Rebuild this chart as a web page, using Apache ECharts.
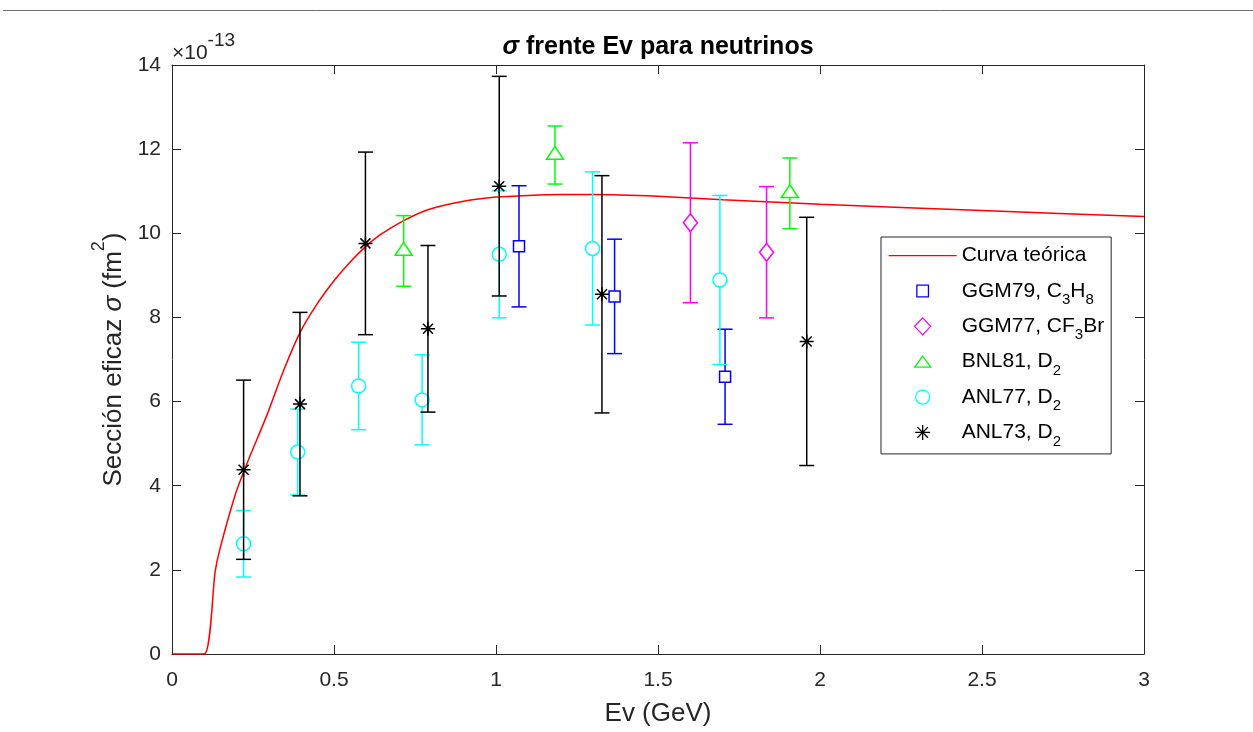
<!DOCTYPE html>
<html><head><meta charset="utf-8">
<script src="https://cdn.jsdelivr.net/npm/echarts@6/dist/echarts.min.js"></script>
<style>html,body{margin:0;padding:0;background:#fff}#c{width:1253px;height:732px}</style>
</head><body><div id="c"></div>
<script>
const FONT = '"Liberation Sans", Arial, Helvetica, sans-serif';

// Theoretical curve (Ev in GeV, sigma in 1e-13 fm^2)
const curveX = [0, 0.1, 0.133, 0.148, 0.198, 0.241, 0.292, 0.345, 0.395, 0.447, 0.503, 0.55, 0.6, 0.642, 0.715, 0.79, 0.9, 1.0, 1.1, 1.2, 1.3, 1.5, 1.7, 2.0, 2.5, 3.0];
const curveY = [0, 0, 1.95, 2.5, 3.85, 4.71, 5.66, 6.75, 7.64, 8.31, 8.9, 9.32, 9.7, 9.96, 10.3, 10.56, 10.76, 10.86, 10.9, 10.92, 10.92, 10.88, 10.8, 10.69, 10.54, 10.4];

// GGM79, C3H8
const ggm79X = [1.071, 1.366, 1.707];
const ggm79Y = [9.69, 8.5, 6.59];
const ggm79Err = [1.44, 1.36, 1.13];
// GGM77, CF3Br
const ggm77X = [1.6, 1.835];
const ggm77Y = [10.25, 9.55];
const ggm77Err = [1.9, 1.56];
// BNL81, D2
const bnl81X = [0.715, 1.182, 1.907];
const bnl81Y = [9.58, 11.86, 10.95];
const bnl81Err = [0.84, 0.69, 0.84];
// ANL77, D2
const anl77X = [0.221, 0.388, 0.576, 0.772, 1.01, 1.298, 1.691];
const anl77Y = [2.62, 4.8, 6.37, 6.04, 9.5, 9.64, 8.89];
const anl77Err = [0.79, 1.02, 1.04, 1.07, 1.51, 1.82, 2.01];
// ANL73, D2
const anl73X = [0.221, 0.395, 0.597, 0.79, 1.01, 1.327, 1.959];
const anl73Y = [4.38, 5.94, 9.76, 7.73, 11.12, 8.55, 7.43];
const anl73Err = [2.13, 2.18, 2.17, 1.98, 2.61, 2.82, 2.95];

const xTickLabels = ['0', '0.5', '1', '1.5', '2', '2.5', '3'];
const yTickLabels = ['0', '2', '4', '6', '8', '10', '12', '14'];

const legendRich = {
  'Curva teórica': '{n|Curva teórica}{s| }',
  'GGM79, C3H8': '{n|GGM79, C}{s|3}{n|H}{s|8}',
  'GGM77, CF3Br': '{n|GGM77, CF}{s|3}{n|Br}',
  'BNL81, D2': '{n|BNL81, D}{s|2}',
  'ANL77, D2': '{n|ANL77, D}{s|2}',
  'ANL73, D2': '{n|ANL73, D}{s|2}'
};

const AX = '#262626';
const LW = 1.5;

function zip3(a, b, c) { return a.map((v, i) => [v, b[i], c[i]]); }

function markerFor(shape, cx, cy, color) {
  const st = { fill: 'none', stroke: color, lineWidth: LW };
  if (shape === 'square') return { el: { type: 'rect', shape: { x: cx - 5.5, y: cy - 5.5, width: 11, height: 11 }, style: st }, gt: 5.5, gb: 5.5 };
  if (shape === 'circle') return { el: { type: 'circle', shape: { cx: cx, cy: cy, r: 7 }, style: st }, gt: 7, gb: 7 };
  if (shape === 'diamond') return { el: { type: 'polygon', shape: { points: [[cx, cy - 9], [cx + 7, cy], [cx, cy + 9], [cx - 7, cy]] }, style: st }, gt: 9, gb: 9 };
  if (shape === 'triangle') return { el: { type: 'polygon', shape: { points: [[cx, cy - 8.7], [cx + 8.5, cy + 4.3], [cx - 8.5, cy + 4.3]] }, style: st }, gt: 8.7, gb: 4.3 };
  const r = 7, d = 5;
  return { el: { type: 'path', shape: { pathData: `M${cx - r},${cy}L${cx + r},${cy}M${cx - d},${cy - d}L${cx + d},${cy + d}M${cx - d},${cy + d}L${cx + d},${cy - d}M${cx},${cy - r}L${cx},${cy + r}` }, style: st }, gt: 0, gb: 0 };
}

function errRender(shape, color) {
  return function (params, api) {
    const x = api.value(0), y = api.value(1), e = api.value(2);
    const c = api.coord([x, y]);
    const t = api.coord([x, y + e]);
    const b = api.coord([x, y - e]);
    const cx = c[0], cy = c[1];
    const ty = t[1], by = b[1];
    const st = { stroke: color, lineWidth: LW, fill: 'none' };
    const capW = 7.5;
    const m = markerFor(shape, cx, cy, color);
    return {
      type: 'group',
      children: [
        { type: 'line', shape: { x1: cx, y1: ty, x2: cx, y2: cy - m.gt }, style: st },
        { type: 'line', shape: { x1: cx, y1: cy + m.gb, x2: cx, y2: by }, style: st },
        { type: 'line', shape: { x1: cx - capW, y1: ty, x2: cx + capW, y2: ty }, style: st },
        { type: 'line', shape: { x1: cx - capW, y1: by, x2: cx + capW, y2: by }, style: st },
        m.el
      ]
    };
  };
}

// legend icons, drawn in a fixed 30x30 frame (68x30 for the line)
const ICON = {
  line: 'path://M0,0M68,30M0,15L68,15',
  square: 'path://M0,0M30,30M9.2,9.2L20.8,9.2L20.8,20.8L9.2,20.8Z',
  diamond: 'path://M0,0M30,30M15,6.5L23,15L15,23.5L7,15Z',
  triangle: 'path://M0,0M30,30M15,9.5L23,20.5L7,20.5Z',
  circle: 'path://M0,0M30,30M8,15A7,7,0,1,0,22,15A7,7,0,1,0,8,15Z',
  asterisk: 'path://M0,0M30,30M7.5,15L22.5,15M15,7.5L15,22.5M9.7,9.7L20.3,20.3M9.7,20.3L20.3,9.7'
};

function errSeries(name, shape, color, xs, ys, es) {
  return {
    name: name, type: 'custom', coordinateSystem: 'cartesian2d',
    xAxisIndex: 0, yAxisIndex: 0,
    itemStyle: { color: color },
    encode: { x: 0, y: 1 },
    renderItem: errRender(shape, color),
    data: zip3(xs, ys, es),
    z: 3, silent: true
  };
}

function legendItem(name, icon, color) {
  return { name: name, icon: icon, itemStyle: { color: 'transparent', borderColor: color, borderWidth: 1.3 } };
}

const boxAxisCommon = {
  axisLine: { show: true, onZero: false, lineStyle: { color: AX, width: 1 } },
  axisTick: { show: true, inside: true, length: 9, lineStyle: { color: AX } },
  axisLabel: { show: false }, splitLine: { show: false }
};

const option = {
  animation: false,
  backgroundColor: '#fff',
  textStyle: { fontFamily: FONT },
  title: {
    text: '{i|σ}{b| frente Ev para neutrinos}',
    left: 658, top: 35, textAlign: 'center', padding: 0,
    textStyle: {
      rich: {
        i: { fontFamily: FONT, fontSize: 25, fontStyle: 'italic', fontWeight: 'bold', color: '#000' },
        b: { fontFamily: FONT, fontSize: 25, fontWeight: 'bold', color: '#000' }
      }
    }
  },
  grid: { left: 172, right: 109, top: 65, bottom: 76, containLabel: false },
  xAxis: [{
    type: 'value', min: 0, max: 3, interval: 0.5,
    name: 'Ev (GeV)', nameLocation: 'middle', nameGap: 47,
    nameTextStyle: { fontFamily: FONT, fontSize: 26, color: AX },
    axisLine: { onZero: false, lineStyle: { color: AX, width: 1 } },
    axisTick: { inside: true, length: 9, lineStyle: { color: AX } },
    axisLabel: { fontFamily: FONT, fontSize: 21, color: AX, margin: 16,
      formatter: v => xTickLabels[Math.round(v / 0.5)] },
    splitLine: { show: false }
  }, Object.assign({ type: 'value', position: 'top', min: 0, max: 3, interval: 0.5 }, boxAxisCommon)],
  yAxis: [{
    type: 'value', min: 0, max: 14, interval: 2,
    name: '{t|Sección eficaz }{g|σ}{t| (fm}{p|2}{t|)}', nameLocation: 'middle', nameGap: 30,
    nameTextStyle: {
      rich: {
        t: { fontFamily: FONT, fontSize: 26, color: AX, verticalAlign: 'middle' },
        g: { fontFamily: FONT, fontSize: 26, color: AX, fontStyle: 'italic', verticalAlign: 'middle' },
        p: { fontFamily: FONT, fontSize: 18, color: AX, verticalAlign: 'top', padding: [0, 0, 30, 0] }
      }
    },
    axisLine: { show: true, onZero: false, lineStyle: { color: AX, width: 1 } },
    axisTick: { inside: true, length: 9, lineStyle: { color: AX } },
    axisLabel: { fontFamily: FONT, fontSize: 21, color: AX, margin: 11,
      formatter: v => yTickLabels[Math.round(v / 2)] },
    splitLine: { show: false }
  }, Object.assign({ type: 'value', position: 'right', min: 0, max: 14, interval: 2 }, boxAxisCommon)],
  legend: {
    orient: 'vertical', left: 881, top: 237,
    padding: [3, 7, 5, 7],
    itemWidth: 68, itemHeight: 30, itemGap: 3.2,
    backgroundColor: '#fff', borderColor: AX, borderWidth: 1, borderRadius: 0,
    selectedMode: false,
    formatter: name => legendRich[name],
    textStyle: {
      rich: {
        n: { fontFamily: FONT, fontSize: 21, color: '#000', verticalAlign: 'middle' },
        s: { fontFamily: FONT, fontSize: 15, color: '#000', verticalAlign: 'bottom', padding: [18, 0, 0, 0] }
      }
    },
    data: [
      legendItem('Curva teórica', ICON.line, '#FF0000'),
      legendItem('GGM79, C3H8', ICON.square, '#0000FF'),
      legendItem('GGM77, CF3Br', ICON.diamond, '#FF00FF'),
      legendItem('BNL81, D2', ICON.triangle, '#00FF00'),
      legendItem('ANL77, D2', ICON.circle, '#00FFFF'),
      legendItem('ANL73, D2', ICON.asterisk, '#000000')
    ]
  },
  graphic: [
    { type: 'line', shape: { x1: 3, y1: 10.5, x2: 1253, y2: 10.5 }, style: { stroke: '#6e6e6e', lineWidth: 1 }, silent: true },
    {
      type: 'text', left: 172, top: 31, silent: true,
      style: {
        text: '{a|×10}{b|-13}',
        rich: {
          a: { fontFamily: FONT, fontSize: 21, fill: AX, verticalAlign: 'middle' },
          b: { fontFamily: FONT, fontSize: 19, fill: AX, verticalAlign: 'top', padding: [0, 0, 26, 0] }
        }
      }
    }
  ],
  series: [
    {
      name: 'Curva teórica', type: 'line', showSymbol: false, symbol: 'none',
      smooth: 0.2,
      data: curveX.map((x, i) => [x, curveY[i]]),
      lineStyle: { color: '#FF0000', width: 1.5 }, itemStyle: { color: '#FF0000' },
      z: 2, silent: true
    },
    errSeries('GGM79, C3H8', 'square', '#0000FF', ggm79X, ggm79Y, ggm79Err),
    errSeries('GGM77, CF3Br', 'diamond', '#FF00FF', ggm77X, ggm77Y, ggm77Err),
    errSeries('BNL81, D2', 'triangle', '#00FF00', bnl81X, bnl81Y, bnl81Err),
    errSeries('ANL77, D2', 'circle', '#00FFFF', anl77X, anl77Y, anl77Err),
    errSeries('ANL73, D2', 'asterisk', '#000000', anl73X, anl73Y, anl73Err)
  ]
};

const chart = echarts.init(document.getElementById('c'), null, { renderer: 'canvas' });
chart.setOption(option);
</script>
</body></html>
